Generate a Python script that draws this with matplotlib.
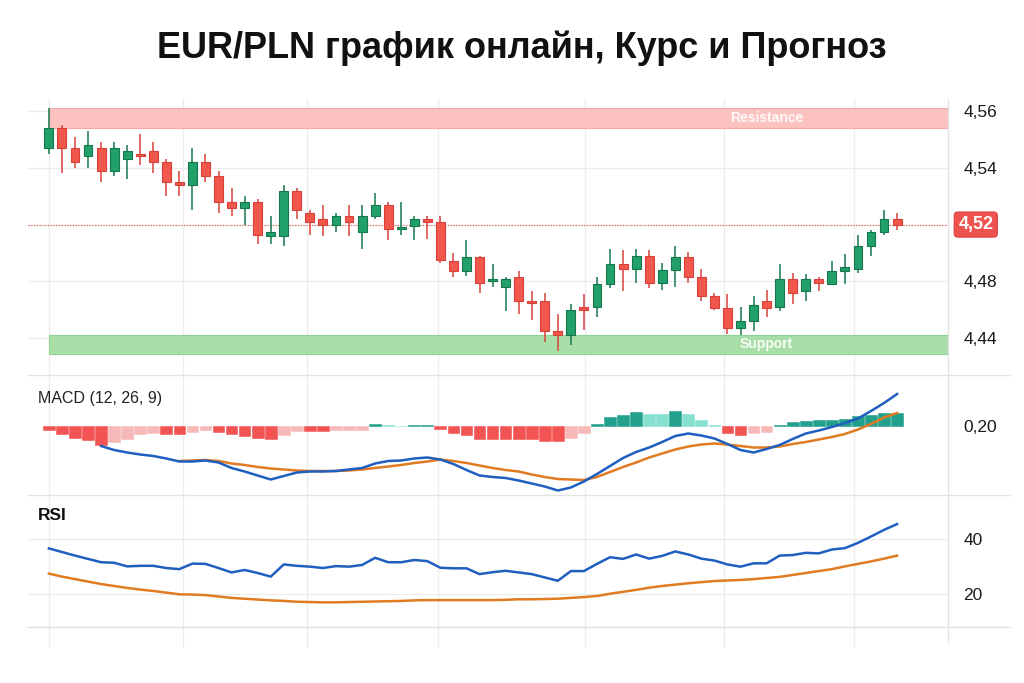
import numpy as np
import matplotlib
matplotlib.use("Agg")
import matplotlib.pyplot as plt
from matplotlib.lines import Line2D

plt.rcParams['font.family'] = ['Liberation Sans', 'DejaVu Sans']

# --- price data (EUR/PLN candles) ---
opens = [4.547, 4.554, 4.547, 4.544, 4.547, 4.539, 4.543, 4.545, 4.546, 4.542,
         4.535, 4.534, 4.542, 4.537, 4.528, 4.526, 4.528, 4.512, 4.512, 4.532,
         4.524, 4.522, 4.520, 4.523, 4.515, 4.523, 4.527, 4.517, 4.519, 4.522,
         4.521, 4.494, 4.487, 4.497, 4.480, 4.476, 4.483, 4.466, 4.466, 4.445,
         4.442, 4.462, 4.462, 4.478, 4.492, 4.489, 4.498, 4.479, 4.488, 4.497,
         4.483, 4.470, 4.461, 4.447, 4.452, 4.466, 4.462, 4.482, 4.473, 4.482,
         4.478, 4.487, 4.489, 4.505, 4.515, 4.522]
highs = [4.561, 4.555, 4.551, 4.553, 4.549, 4.549, 4.548, 4.552, 4.549, 4.543,
         4.539, 4.547, 4.545, 4.539, 4.533, 4.530, 4.529, 4.523, 4.534, 4.533,
         4.525, 4.527, 4.524, 4.527, 4.527, 4.531, 4.528, 4.528, 4.523, 4.523,
         4.523, 4.500, 4.509, 4.498, 4.492, 4.483, 4.487, 4.473, 4.472, 4.457,
         4.464, 4.471, 4.483, 4.503, 4.502, 4.503, 4.502, 4.493, 4.505, 4.501,
         4.489, 4.472, 4.471, 4.462, 4.470, 4.474, 4.492, 4.486, 4.485, 4.483,
         4.494, 4.499, 4.513, 4.516, 4.525, 4.524]
lows = [4.545, 4.538, 4.540, 4.540, 4.535, 4.537, 4.536, 4.541, 4.538, 4.530,
        4.530, 4.525, 4.535, 4.524, 4.523, 4.520, 4.506, 4.506, 4.505, 4.522,
        4.513, 4.512, 4.515, 4.512, 4.503, 4.522, 4.509, 4.513, 4.509, 4.510,
        4.493, 4.483, 4.484, 4.472, 4.476, 4.459, 4.457, 4.453, 4.437, 4.431,
        4.435, 4.446, 4.455, 4.475, 4.473, 4.479, 4.475, 4.474, 4.476, 4.479,
        4.466, 4.460, 4.443, 4.442, 4.445, 4.455, 4.459, 4.464, 4.466, 4.473,
        4.478, 4.478, 4.486, 4.498, 4.513, 4.516]
closes = [4.554, 4.547, 4.542, 4.548, 4.539, 4.547, 4.546, 4.544, 4.542, 4.535,
          4.534, 4.542, 4.537, 4.528, 4.526, 4.528, 4.513, 4.515, 4.532, 4.525,
          4.521, 4.520, 4.523, 4.521, 4.523, 4.527, 4.517, 4.518, 4.522, 4.521,
          4.495, 4.487, 4.497, 4.479, 4.482, 4.482, 4.466, 4.465, 4.445, 4.442,
          4.460, 4.460, 4.478, 4.492, 4.489, 4.498, 4.479, 4.488, 4.497, 4.483,
          4.470, 4.461, 4.447, 4.452, 4.463, 4.461, 4.482, 4.472, 4.482, 4.479,
          4.487, 4.490, 4.505, 4.515, 4.522, 4.520]

resistance_zone = (4.554, 4.561)
support_zone = (4.429, 4.442)
price_ticks = [4.56, 4.54, 4.52, 4.48, 4.44]

# --- MACD (12, 26, 9) ---
macd_line = [None, None, None, None, 0.160, 0.152, 0.147, 0.143, 0.140, 0.135,
             0.129, 0.129, 0.131, 0.127, 0.116, 0.109, 0.101, 0.093, 0.100, 0.107,
             0.109, 0.109, 0.110, 0.113, 0.116, 0.125, 0.130, 0.131, 0.135, 0.137,
             0.133, 0.124, 0.112, 0.101, 0.098, 0.096, 0.091, 0.085, 0.079, 0.071,
             0.077, 0.089, 0.104, 0.120, 0.136, 0.148, 0.157, 0.168, 0.180, 0.185,
             0.181, 0.175, 0.164, 0.152, 0.147, 0.154, 0.162, 0.174, 0.185, 0.191,
             0.198, 0.206, 0.215, 0.230, 0.246, 0.264]
signal_line = [None, None, None, None, None, None, None, None, None, None,
               0.130, 0.131, 0.132, 0.130, 0.125, 0.122, 0.118, 0.115, 0.113, 0.111,
               0.110, 0.110, 0.110, 0.111, 0.113, 0.116, 0.119, 0.122, 0.126, 0.129,
               0.133, 0.130, 0.126, 0.121, 0.116, 0.112, 0.109, 0.103, 0.098, 0.094,
               0.093, 0.092, 0.098, 0.108, 0.118, 0.127, 0.137, 0.145, 0.153, 0.159,
               0.163, 0.165, 0.163, 0.160, 0.157, 0.157, 0.159, 0.164, 0.168, 0.173,
               0.178, 0.184, 0.193, 0.204, 0.217, 0.226]
histogram = [-0.007, -0.015, -0.023, -0.028, -0.038, -0.031, -0.026, -0.015, -0.013, -0.016,
             -0.016, -0.011, -0.007, -0.011, -0.016, -0.020, -0.023, -0.025, -0.018, -0.009,
             -0.010, -0.010, -0.007, -0.007, -0.007, 0.005, 0.002, 0.001, 0.002, 0.002,
             -0.005, -0.013, -0.018, -0.025, -0.025, -0.025, -0.026, -0.026, -0.030, -0.030,
             -0.023, -0.013, 0.005, 0.019, 0.022, 0.029, 0.025, 0.025, 0.030, 0.024,
             0.013, 0.002, -0.013, -0.017, -0.013, -0.011, 0.002, 0.009, 0.011, 0.012,
             0.012, 0.014, 0.021, 0.022, 0.027, 0.027]
hist_base = 0.20

# --- RSI ---
rsi = [36.6, 35.3, 34.0, 32.8, 31.6, 31.4, 30.1, 30.3, 30.3, 29.5,
       29.1, 31.1, 31.0, 29.5, 27.9, 28.8, 27.7, 26.4, 30.8, 30.3,
       30.0, 29.5, 30.2, 30.0, 30.6, 33.2, 31.6, 31.6, 32.4, 32.0,
       29.6, 29.4, 29.4, 27.3, 28.0, 28.5, 27.9, 27.3, 26.1, 24.9,
       28.4, 28.4, 31.0, 33.4, 32.8, 34.4, 32.9, 33.9, 35.5, 34.4,
       32.9, 32.2, 30.8, 30.0, 31.2, 31.2, 34.0, 34.2, 35.0, 34.8,
       36.2, 36.7, 38.6, 40.9, 43.3, 45.4]
rsi_ma = [27.5, 26.4, 25.5, 24.6, 23.7, 23.0, 22.3, 21.7, 21.2, 20.6,
          20.0, 19.9, 19.7, 19.2, 18.7, 18.4, 18.1, 17.8, 17.6, 17.3,
          17.2, 17.1, 17.1, 17.2, 17.3, 17.4, 17.5, 17.6, 17.8, 17.9,
          17.9, 17.9, 17.9, 17.9, 17.9, 18.0, 18.2, 18.2, 18.3, 18.4,
          18.7, 19.0, 19.4, 20.2, 20.9, 21.6, 22.4, 23.0, 23.5, 24.0,
          24.4, 24.8, 25.0, 25.2, 25.5, 25.9, 26.3, 27.0, 27.7, 28.4,
          29.1, 30.1, 31.0, 31.9, 32.9, 34.0]
rsi_ticks = [40, 20]

GREEN, GREEN_E = '#22a06b', '#15784d'
RED, RED_E = '#f2574c', '#d8413a'
BLUE, ORANGE = '#1f5fbf', '#e07b22'
GRID = '#ececec'

n = len(closes)
x = np.arange(n)
xlim = (-1.6, 68.9)
grid_x = [0, 10.3, 19.8, 29.8, 41.1, 51.7, 61.7]

fig = plt.figure(figsize=(10.24, 6.83), dpi=100)
fig.patch.set_facecolor('white')
L, W = 28 / 1024, 920 / 1024
ax_p = fig.add_axes([L, 1 - 375 / 683, W, 277 / 683])
ax_m = fig.add_axes([L, 1 - 495 / 683, W, 120 / 683])
ax_r = fig.add_axes([L, 1 - 648 / 683, W, 153 / 683])

# piecewise price scale so the axis labels sit as in the picture
pts = [4.40, 4.44, 4.48, 4.52, 4.54, 4.56, 4.60]
units = [-1, 0, 1, 2, 3, 4, 6]
ax_p.set_yscale('function', functions=(lambda v: np.interp(v, pts, units),
                                       lambda u: np.interp(u, units, pts)))

for ax in (ax_p, ax_m, ax_r):
    ax.set_xlim(*xlim)
    for s in ax.spines.values():
        s.set_visible(False)
    ax.set_xticks(grid_x)
    ax.tick_params(axis='x', length=0, labelbottom=False)
    ax.yaxis.tick_right()
    ax.tick_params(axis='y', length=0, pad=11, labelsize=12.5, labelcolor='#1a1a1a')
    ax.grid(True, color=GRID, lw=0.9)
    ax.set_axisbelow(True)

# price panel
ax_p.set_ylim(4.414, 4.5646)
ax_p.set_yticks(price_ticks)
last = closes[-1]
ax_p.set_yticklabels(['' if abs(v - last) < 0.005 else f'{v:.2f}'.replace('.', ',')
                      for v in price_ticks])
ax_p.fill_between([0, xlim[1]], *resistance_zone, color='#fcc2c0', ec='#f5a9a7', lw=0.8, zorder=1)
ax_p.fill_between([0, xlim[1]], *support_zone, color='#a8dfa9', ec='#90d292', lw=0.8, zorder=1)
ax_p.text(55, sum(resistance_zone) / 2, 'Resistance', color='white', alpha=0.9,
          fontsize=10, fontweight='bold', ha='center', va='center', zorder=2)
ax_p.text(55, sum(support_zone) / 2, 'Support', color='white', alpha=0.9,
          fontsize=10, fontweight='bold', ha='center', va='center', zorder=2)

o, h, lo, c = map(np.array, (opens, highs, lows, closes))
up = c >= o
ax_p.vlines(x, lo, h, colors=np.where(up, GREEN_E, RED_E), lw=1.1, zorder=3)
ax_p.bar(x, c - o, bottom=o, width=0.68, color=np.where(up, GREEN, RED),
         edgecolor=np.where(up, GREEN_E, RED_E), lw=0.8, zorder=4)

ax_p.axhline(last, color='#d9534f', lw=0.8, ls=(0, (1, 1.5)), zorder=2)
ax_p.annotate(f'{last:.2f}'.replace('.', ','), xy=(1.0, last), xycoords=('axes fraction', 'data'),
              xytext=(20, 0), textcoords='offset points', ha='center', va='center',
              fontsize=13, fontweight='bold', color='white',
              bbox=dict(boxstyle='round,pad=0.22,rounding_size=0.2', fc='#ef5350', ec='#e04845'))

# MACD panel
ax_m.set_ylim(0.062, 0.302)
ax_m.set_yticks([hist_base])
ax_m.set_yticklabels([f'{hist_base:.2f}'.replace('.', ',')])
ax_m.grid(False, axis='y')
cols, prev, state = [], 0.0, None
for v in histogram:
    if v < 0:
        state = '#f25454' if v < prev else ('#f7b8b8' if v > prev else state)
    else:
        state = '#23a08c' if v > prev else ('#86e0cf' if v < prev else state)
    cols.append(state)
    prev = v
ax_m.bar(x, histogram, bottom=hist_base, width=0.9, color=cols,
         edgecolor=cols, lw=0.4, zorder=2)
ax_m.plot(x, np.array(signal_line, dtype=float), color=ORANGE, lw=1.8, zorder=3)
ax_m.plot(x, np.array(macd_line, dtype=float), color=BLUE, lw=1.8, zorder=4)
ax_m.text(10 / 920, 0.80, 'MACD (12, 26, 9)', transform=ax_m.transAxes, fontsize=11.5,
          color='#222222', va='center')

# RSI panel (extends below the bottom rule, as the grid does in the picture)
rsi_per_px = 20 / 55.3
ax_r.set_ylim(40 - 109 * rsi_per_px, 40 + 44 * rsi_per_px)
ax_r.set_yticks(rsi_ticks)
ax_r.plot(x, rsi_ma, color=ORANGE, lw=1.8)
ax_r.plot(x, rsi, color=BLUE, lw=1.8)
ax_r.text(10 / 920, 1 - 21 / 153, 'RSI', transform=ax_r.transAxes, fontsize=12.5,
          fontweight='bold', color='#111111', va='center')

# separators
for yy in (375, 495, 627):
    fig.add_artist(Line2D([28 / 1024, 1010 / 1024], [1 - yy / 683] * 2, color='#e2e2e2', lw=1))
fig.add_artist(Line2D([948 / 1024] * 2, [1 - 100 / 683, 1 - 642 / 683], color='#e2e2e2', lw=1))

fig.text(0.51, 1 - 48 / 683, 'EUR/PLN график онлайн, Курс и Прогноз', ha='center',
         va='center', fontsize=26, fontweight='bold', color='#111111')

fig.savefig('out.png', dpi=100)
